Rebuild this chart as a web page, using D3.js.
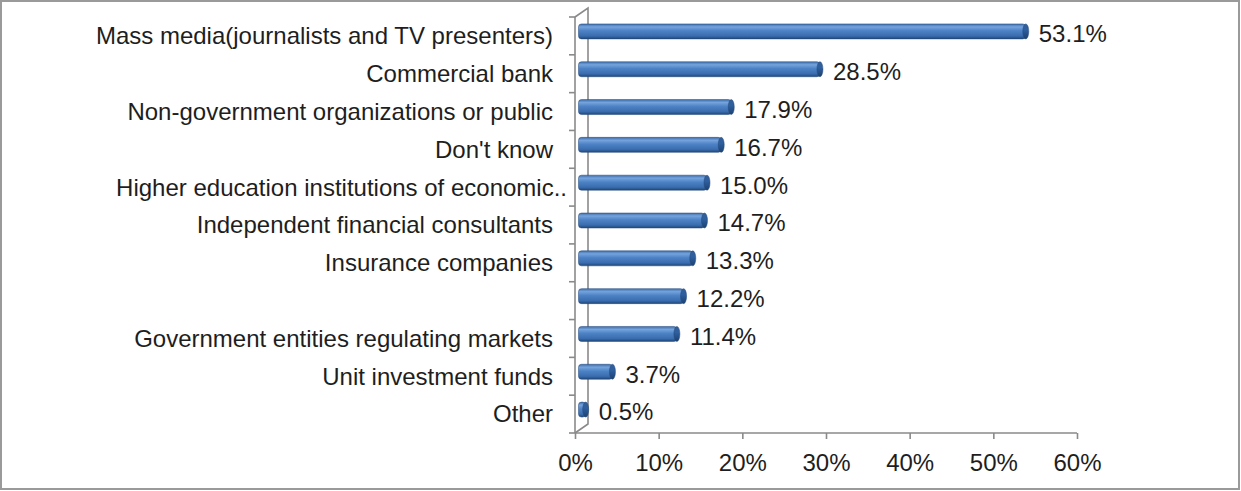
<!DOCTYPE html>
<html lang="en">
<head>
	<meta charset="UTF-8">
	<title>Chart</title>
	<script type="text/javascript" src="https://cdn.jsdelivr.net/npm/d3@7"></script>
</head>
<style>
	body { margin: 0; background: #fff; }
	text { font-family: "Liberation Sans", Arial, sans-serif; fill: #1e1e1e; }
</style>
<body>
	<script type="text/javascript">
		// chart data
		var categories = [
			"Mass media(journalists and TV presenters)",
			"Commercial bank",
			"Non-government organizations or public",
			"Don't know",
			"Higher education institutions of economic..",
			"Independent financial consultants",
			"Insurance companies",
			"",
			"Government entities regulating markets",
			"Unit investment funds",
			"Other"
		];
		var values = [53.1, 28.5, 17.9, 16.7, 15.0, 14.7, 13.3, 12.2, 11.4, 3.7, 0.5];
		var xTicks = [0, 10, 20, 30, 40, 50, 60];

		var width = 1241;
		var height = 491;
		var axisColor = '#8a8a8a';
		// 3d depth of the walls and of the bars
		var wallDx = 13, wallDy = -9;
		var barDx = 6.5, barDy = -4.5;
		var barH = 15;

		var svg = d3.select('body')
					.append('svg')
					.attr('width', width)
					.attr('height', height);

		// gradients for the cylinders
		var defs = svg.append('defs');
		var g1 = defs.append('linearGradient').attr('id', 'cyl').attr('x1', 0).attr('y1', 0).attr('x2', 0).attr('y2', 1);
		[[0, '#3d6dab'], [0.2, '#75a3dc'], [0.45, '#4d83c6'], [0.8, '#3a6daf'], [1, '#1f4778']].forEach(function(s){
			g1.append('stop').attr('offset', s[0]).attr('stop-color', s[1]);
		});
		var g2 = defs.append('linearGradient').attr('id', 'cap').attr('x1', 0).attr('y1', 0).attr('x2', 0).attr('y2', 1);
		[[0, '#355f98'], [0.4, '#2e5f9f'], [1, '#1c416f']].forEach(function(s){
			g2.append('stop').attr('offset', s[0]).attr('stop-color', s[1]);
		});

		// outer border
		svg.append('rect')
		   .attr('x', 1).attr('y', 1)
		   .attr('width', width - 3).attr('height', height - 3)
		   .attr('fill', '#fff')
		   .attr('stroke', '#9a9a9a')
		   .attr('stroke-width', 2);

		var x = d3.scaleLinear().domain([0, 60]).range([575, 1077]);
		var y = d3.scaleBand().domain(d3.range(categories.length)).range([17, 433]).padding(0);

		var x0 = x(0), yTop = y.range()[0], yBot = y.range()[1];

		// walls (left wall + floor edge)
		var walls = svg.append('g')
					   .attr('fill', 'none')
					   .attr('stroke', axisColor)
					   .attr('stroke-width', 1.6);
		walls.append('path')
			 .attr('d', 'M' + x0 + ',' + yTop + 'L' + (x0 + wallDx) + ',' + (yTop + wallDy) +
			 			'L' + (x0 + wallDx) + ',' + (yBot + wallDy) + 'L' + x0 + ',' + yBot);
		walls.append('line')
			 .attr('x1', x0).attr('x2', x0)
			 .attr('y1', yTop).attr('y2', yBot);

		// category ticks on the left (at band boundaries)
		var bounds = categories.map(function(d, i){ return y(i); }).concat([yBot]);
		walls.selectAll('.ytick')
			 .data(bounds)
			 .enter()
			 .append('line')
			 .attr('x1', x0 - 6).attr('x2', x0)
			 .attr('y1', function(d){ return d; })
			 .attr('y2', function(d){ return d; });

		// x axis
		var xAxis = d3.axisBottom(x)
					  .tickValues(xTicks)
					  .tickFormat(function(d){ return d + '%'; })
					  .tickSize(6)
					  .tickPadding(15);
		var gx = svg.append('g')
					.attr('transform', 'translate(0,' + yBot + ')')
					.call(xAxis);
		gx.select('.domain').attr('stroke', axisColor).attr('stroke-width', 1.6)
		  .attr('d', 'M' + x0 + ',0H' + x(60));
		gx.selectAll('.tick line').attr('stroke', axisColor).attr('stroke-width', 1.6);
		gx.selectAll('.tick text')
		  .attr('font-size', 24)
		  .attr('font-family', '"Liberation Sans", Arial, sans-serif')
		  .attr('fill', '#1e1e1e');

		// category labels
		svg.selectAll('.cat')
		   .data(categories)
		   .enter()
		   .append('text')
		   .attr('class', 'cat')
		   .attr('x', function(d){ return /\.\.$/.test(d) ? 567 : 553; })
		   .attr('y', function(d, i){ return y(i) + y.bandwidth() / 2; })
		   .attr('dy', '0.35em')
		   .attr('text-anchor', 'end')
		   .attr('font-size', 24)
		   .text(function(d){ return d; });

		// bars as cylinders
		var bars = svg.selectAll('.bar')
					  .data(values)
					  .enter()
					  .append('g')
					  .attr('class', 'bar')
					  .attr('transform', function(d, i){
					  	return 'translate(0,' + (y(i) + y.bandwidth() / 2 + barDy - barH / 2) + ')';
					  });

		bars.append('rect')
			.attr('x', x0 + barDx - 3)
			.attr('y', 0)
			.attr('width', function(d){ return Math.max(0, x(d) - x0 + 3); })
			.attr('height', barH)
			.attr('rx', 3)
			.attr('fill', 'url(#cyl)')
			.attr('stroke', '#24497a')
			.attr('stroke-width', 0.5);

		bars.append('ellipse')
			.attr('cx', function(d){ return x(d) + barDx; })
			.attr('cy', barH / 2)
			.attr('rx', 3)
			.attr('ry', barH / 2)
			.attr('fill', 'url(#cap)')
			.attr('stroke', '#24497a')
			.attr('stroke-width', 0.5);

		// value labels
		svg.selectAll('.val')
		   .data(values)
		   .enter()
		   .append('text')
		   .attr('class', 'val')
		   .attr('x', function(d){ return x(d) + barDx + 3 + 10; })
		   .attr('y', function(d, i){ return y(i) + y.bandwidth() / 2 - 2; })
		   .attr('dy', '0.35em')
		   .attr('font-size', 24)
		   .text(function(d){ return d.toFixed(1) + '%'; });
	</script>
</body>
</html>
